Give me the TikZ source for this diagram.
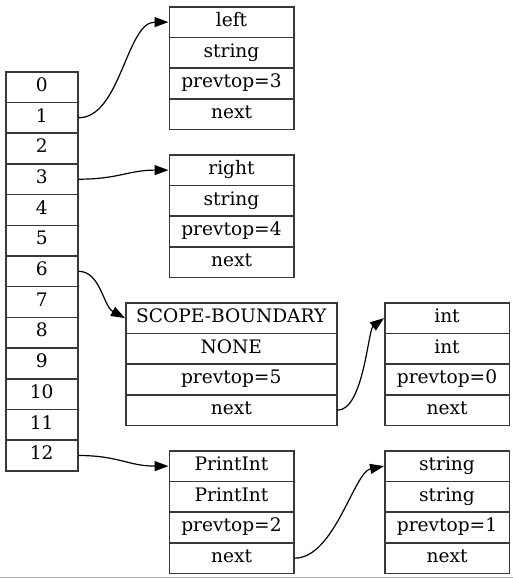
\documentclass[tikz,border=0pt]{standalone}
\usepackage{fontspec}
\setmainfont{DejaVu Serif}
\usetikzlibrary{arrows.meta}
\begin{document}
\begin{tikzpicture}[x=1pt,y=-1pt,
  fld/.style={draw=black!78, line width=1.5pt, rectangle, inner sep=0pt,
    minimum height=30.7pt, text height=13.5pt, text depth=5pt,
    anchor=north west, font=\fontsize{18.6}{22}\selectfont},
  slot/.style={fld, minimum width=72pt},
  rec/.style={fld, minimum width=124.5pt},
  widerec/.style={fld, minimum width=211pt},
  link/.style={draw=black, line width=1.2pt,
    -{Triangle[length=14pt,width=10pt]}}]
\useasboundingbox (0,0) rectangle (513,579);
\fill[white] (0,0) rectangle (513,579);

% stack slots 0..12
\foreach \i in {0,...,12}
  \node[slot] (a\i) at (5,{71+30.7*\i}) {\i};

% record: left
\node[rec] (l0) at (168.5,6)     {left};
\node[rec] (l1) at (168.5,36.7)  {string};
\node[rec] (l2) at (168.5,67.4)  {prevtop=3};
\node[rec] (l3) at (168.5,98.1)  {next};

% record: right
\node[rec] (r0) at (168.5,154)   {right};
\node[rec] (r1) at (168.5,184.7) {string};
\node[rec] (r2) at (168.5,215.4) {prevtop=4};
\node[rec] (r3) at (168.5,246.1) {next};

% record: scope boundary
\node[widerec] (s0) at (125,302)   {SCOPE-BOUNDARY};
\node[widerec] (s1) at (125,332.7) {NONE};
\node[widerec] (s2) at (125,363.4) {prevtop=5};
\node[widerec] (s3) at (125,394.1) {next};

% record: int
\node[rec] (i0) at (384,302)   {int};
\node[rec] (i1) at (384,332.7) {int};
\node[rec] (i2) at (384,363.4) {prevtop=0};
\node[rec] (i3) at (384,394.1) {next};

% record: PrintInt
\node[rec] (p0) at (168.5,450)   {PrintInt};
\node[rec] (p1) at (168.5,480.7) {PrintInt};
\node[rec] (p2) at (168.5,511.4) {prevtop=2};
\node[rec] (p3) at (168.5,542.1) {next};

% record: string
\node[rec] (t0) at (384,450)   {string};
\node[rec] (t1) at (384,480.7) {string};
\node[rec] (t2) at (384,511.4) {prevtop=1};
\node[rec] (t3) at (384,542.1) {next};

% links
\draw[link] (a1.east) .. controls +(42,0) and +(-42,0) .. (l0.west);
\draw[link] (a3.east) .. controls +(40,0) and +(-40,0) .. (r0.west);
\draw[link] (a6.east) .. controls +(22,0) and +(-22,-12) .. (s0.west);
\draw[link] (s3.east) .. controls +(26,0) and +(-16,12) .. (i0.west);
\draw[link] (a12.east) .. controls +(40,0) and +(-40,0) .. (p0.west);
\draw[link] (p3.east) .. controls +(40,0) and +(-30,6) .. (t0.west);

% bottom rule
\draw[black!32, line width=1pt] (0,577) -- (513,577);
\end{tikzpicture}
\end{document}
